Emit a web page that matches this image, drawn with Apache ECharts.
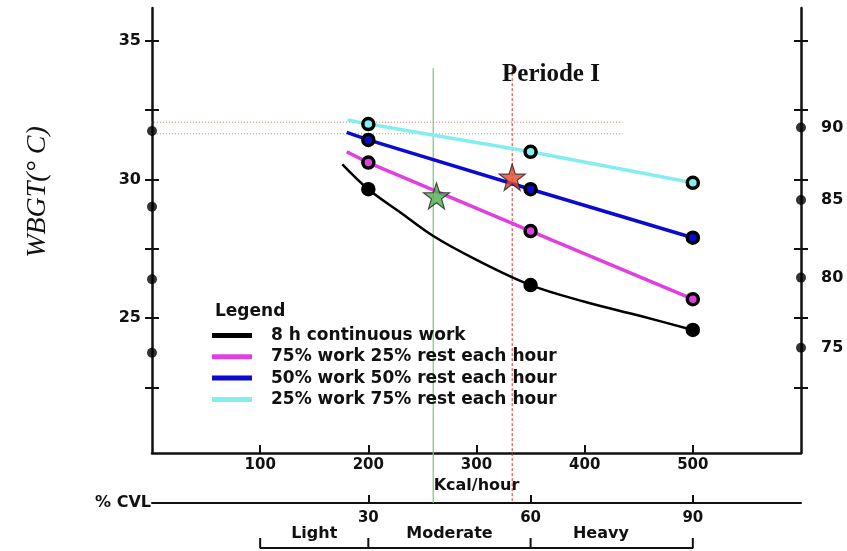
<!DOCTYPE html>
<html>
<head>
<meta charset="utf-8">
<script src="https://cdn.jsdelivr.net/npm/echarts@6/dist/echarts.min.js"></script>
<style>html,body{margin:0;padding:0;background:#fff}#c{width:847px;height:551px}</style>
</head>
<body>
<div id="c"></div>
<script>
// ---- data ----
const kcalTicks = [100, 200, 300, 400, 500];
const cvlTicks = [30, 60, 90];
const wbgtTicks = [22.5, 25, 27.5, 30, 32.5, 35];
const wbgtLabels = [25, 30, 35];

const seriesNames = ['8 h continuous work', '75% work 25% rest each hour', '50% work 50% rest each hour', '25% work 75% rest each hour'];
const seriesColors = ['#000000', '#e040e0', '#0a0ad0', '#84eeee'];

const blackX = [176, 200, 230, 260, 300, 350, 400, 450, 500];
const blackY = [30.55, 29.65, 28.80, 27.96, 27.10, 26.19, 25.59, 25.09, 24.57];
const magentaX = [180, 200, 350, 500];
const magentaY = [31.00, 30.61, 28.14, 25.68];
const blueX = [180, 200, 350, 500];
const blueY = [31.70, 31.43, 29.65, 27.90];
const cyanX = [181, 200, 350, 500];
const cyanY = [32.15, 32.00, 31.00, 29.88];
const markedKcal = [200, 350, 500];

const starX = [263, 333];
const starY = [29.41, 30.08];
const starColors = ['#4caf50', '#e8462a'];

const vLineX = [260, 333];
const vLineY = [34.02, 18.33];
const hLineX = [-62, 435];
const hLineY = [32.07, 31.65];

const leftDotY = [31.75, 29.02, 26.40, 23.75];
const rightDotY = [31.88, 29.26, 26.46, 23.93];
const rightDotLabels = ['90', '85', '80', '75'];

const workCats = ['Light', 'Moderate', 'Heavy'];
const workCatX = [150, 275, 415];
const bracketX = [100, 200, 350, 500];
const bracketY = 16.70;
const bracketTickY = 17.06;

const X_MIN = 0, X_MAX = 600, Y_MIN = 20.13, Y_MAX = 36.19;
// CVL axis: kcal = 50 + 5 * CVL
const CVL_MIN = (X_MIN - 50) / 5, CVL_MAX = (X_MAX - 50) / 5;

// ---- build ----
const FONT = 'DejaVu Sans';
const zip = (xs, ys) => xs.map((x, i) => [x, ys[i]]);
const curveXs = [blackX, magentaX, blueX, cyanX];
const curveYs = [blackY, magentaY, blueY, cyanY];
const curveWidths = [2.5, 3.5, 3.5, 3.5];

const series = [];
seriesNames.forEach((name, i) => {
  series.push({
    name: name, type: 'line', data: zip(curveXs[i], curveYs[i]),
    smooth: i === 0 ? 0.35 : false, clip: false,
    showSymbol: true, symbol: 'circle',
    symbolSize: v => markedKcal.indexOf(v[0]) >= 0 ? 11 : 0,
    lineStyle: { color: seriesColors[i], width: curveWidths[i] },
    itemStyle: { color: seriesColors[i], borderColor: '#000', borderWidth: 3.5 },
    z: 5 + i, animation: false
  });
});

// vertical reference lines
series.push({ type: 'line', data: [[vLineX[0], vLineY[0]], [vLineX[0], vLineY[1]]], clip: false, symbol: 'none',
  lineStyle: { color: '#7cc47c', width: 1.2 }, z: 2, animation: false });
series.push({ type: 'line', data: [[vLineX[1], vLineY[0]], [vLineX[1], vLineY[1]]], clip: false, symbol: 'none',
  lineStyle: { color: '#e03030', width: 1, type: [3, 2] }, z: 2, animation: false });
// horizontal dotted lines
series.push({ type: 'line', data: [[hLineX[0], hLineY[0]], [hLineX[1], hLineY[0]]], clip: false, symbol: 'none',
  lineStyle: { color: '#e06a5a', width: 1, type: [1, 2] }, z: 2, animation: false });
series.push({ type: 'line', data: [[hLineX[0], hLineY[1]], [hLineX[1], hLineY[1]]], clip: false, symbol: 'none',
  lineStyle: { color: '#6ab46a', width: 1, type: [1, 2] }, z: 2, animation: false });

// stars
const starPath = 'path://M50,0 L61.8,35.3 L98.5,35.3 L68.9,57.1 L79.8,92.7 L50,71 L20.2,92.7 L31.1,57.1 L1.5,35.3 L38.2,35.3 Z';
series.push({ type: 'scatter', clip: false, symbol: starPath, symbolSize: 26, z: 20, animation: false,
  data: starX.map((x, i) => ({ value: [x, starY[i]], itemStyle: { color: starColors[i], borderColor: '#222', borderWidth: 1.2 } })) });

// axis dots
series.push({ type: 'scatter', clip: false, symbol: 'circle', symbolSize: 10, z: 20, animation: false,
  itemStyle: { color: '#000' }, data: leftDotY.map(y => [X_MIN, y]) });
series.push({ type: 'scatter', clip: false, symbol: 'circle', symbolSize: 10, z: 20, animation: false,
  itemStyle: { color: '#000' }, data: rightDotY.map(y => [X_MAX, y]) });

// bracket for work categories
const bracketPts = [];
bracketX.forEach((x, i) => {
  if (i === 0) { bracketPts.push([x, bracketTickY], [x, bracketY]); }
  else { bracketPts.push([x, bracketY], [x, bracketTickY], [x, bracketY]); }
});
series.push({ type: 'line', data: bracketPts, clip: false, symbol: 'none',
  lineStyle: { color: '#111', width: 2 }, z: 3, animation: false });

const axisText = { fontFamily: FONT, fontWeight: 'bold', fontSize: 16, color: '#111' };

const option = {
  backgroundColor: '#fff',
  animation: false,
  grid: { left: 152, right: 46, top: 8, bottom: 98, containLabel: false },
  title: [
    { text: 'Periode I', left: 551, top: 62, textAlign: 'center', padding: 0,
      textStyle: { fontFamily: 'Liberation Serif', fontWeight: 'bold', fontSize: 25, color: '#111' } },
    { text: 'Legend', left: 215, top: 303, padding: 0,
      textStyle: { fontFamily: FONT, fontWeight: 'bold', fontSize: 17, color: '#111' } }
  ],
  legend: {
    data: seriesNames, orient: 'vertical', left: 212, top: 325, padding: 0,
    itemWidth: 40, itemHeight: 5, itemGap: 0.3, icon: 'rect', selectedMode: false,
    itemStyle: { borderWidth: 0 },
    textStyle: { fontFamily: FONT, fontWeight: 'bold', fontSize: 17, color: '#111', lineHeight: 21, padding: [0, 0, 0, 14] }
  },
  xAxis: [
    { type: 'value', min: X_MIN, max: X_MAX, position: 'bottom',
      name: 'Kcal/hour', nameLocation: 'middle', nameGap: 24,
      nameTextStyle: { fontFamily: FONT, fontWeight: 'bold', fontSize: 16, color: '#111' },
      axisLine: { show: true, onZero: false, lineStyle: { color: '#111', width: 2.5 } },
      axisTick: { show: true, inside: true, length: 8, customValues: kcalTicks, lineStyle: { color: '#111', width: 2 } },
      axisLabel: Object.assign({ customValues: kcalTicks, margin: 5 }, axisText, { fontSize: 15 }),
      splitLine: { show: false } },
    { type: 'value', min: CVL_MIN, max: CVL_MAX, position: 'bottom', offset: 50,
      name: '% CVL', nameLocation: 'start', nameGap: 1,
      nameTextStyle: axisText,
      axisLine: { show: true, onZero: false, lineStyle: { color: '#111', width: 2 } },
      axisTick: { show: true, inside: true, length: 8, customValues: cvlTicks, lineStyle: { color: '#111', width: 2 } },
      axisLabel: Object.assign({ customValues: cvlTicks, margin: 8 }, axisText, { fontSize: 15 }),
      splitLine: { show: false } },
    { type: 'value', min: X_MIN, max: X_MAX, position: 'bottom', offset: 72,
      axisLine: { show: false, onZero: false }, axisTick: { show: false },
      axisLabel: Object.assign({ customValues: workCatX, margin: 1,
        formatter: v => workCats[workCatX.indexOf(v)] }, axisText),
      splitLine: { show: false } }
  ],
  yAxis: [
    { type: 'value', min: Y_MIN, max: Y_MAX, position: 'left',
      axisLine: { show: true, onZero: false, lineStyle: { color: '#111', width: 2.5 } },
      axisTick: { show: true, length: 7, customValues: wbgtTicks, lineStyle: { color: '#111', width: 2 } },
      axisLabel: Object.assign({ customValues: wbgtLabels, margin: 11 }, axisText),
      splitLine: { show: false } },
    { type: 'value', min: Y_MIN, max: Y_MAX, position: 'right',
      axisLine: { show: true, onZero: false, lineStyle: { color: '#111', width: 2.5 } },
      axisTick: { show: true, length: 7, customValues: wbgtTicks, lineStyle: { color: '#111', width: 2 } },
      axisLabel: Object.assign({ customValues: rightDotY, margin: 20,
        formatter: v => rightDotLabels[rightDotY.indexOf(v)] }, axisText),
      splitLine: { show: false } },
    { type: 'value', min: Y_MIN, max: Y_MAX, position: 'left',
      axisLine: { show: false, onZero: false },
      axisTick: { show: true, inside: true, length: 7, customValues: wbgtTicks, lineStyle: { color: '#111', width: 2 } },
      axisLabel: { show: false }, splitLine: { show: false } },
    { type: 'value', min: Y_MIN, max: Y_MAX, position: 'right',
      axisLine: { show: false, onZero: false },
      axisTick: { show: true, inside: true, length: 7, customValues: wbgtTicks, lineStyle: { color: '#111', width: 2 } },
      axisLabel: { show: false }, splitLine: { show: false } }
  ],
  graphic: [
    { type: 'text', x: 38, y: 192, rotation: Math.PI / 2,
      style: { text: 'WBGT(° C)', font: 'italic 28px "Liberation Serif"', fill: '#111', align: 'center', verticalAlign: 'middle' } }
  ],
  series: series
};

const chart = echarts.init(document.getElementById('c'), null, { renderer: 'canvas' });
chart.setOption(option);
</script>
</body>
</html>
